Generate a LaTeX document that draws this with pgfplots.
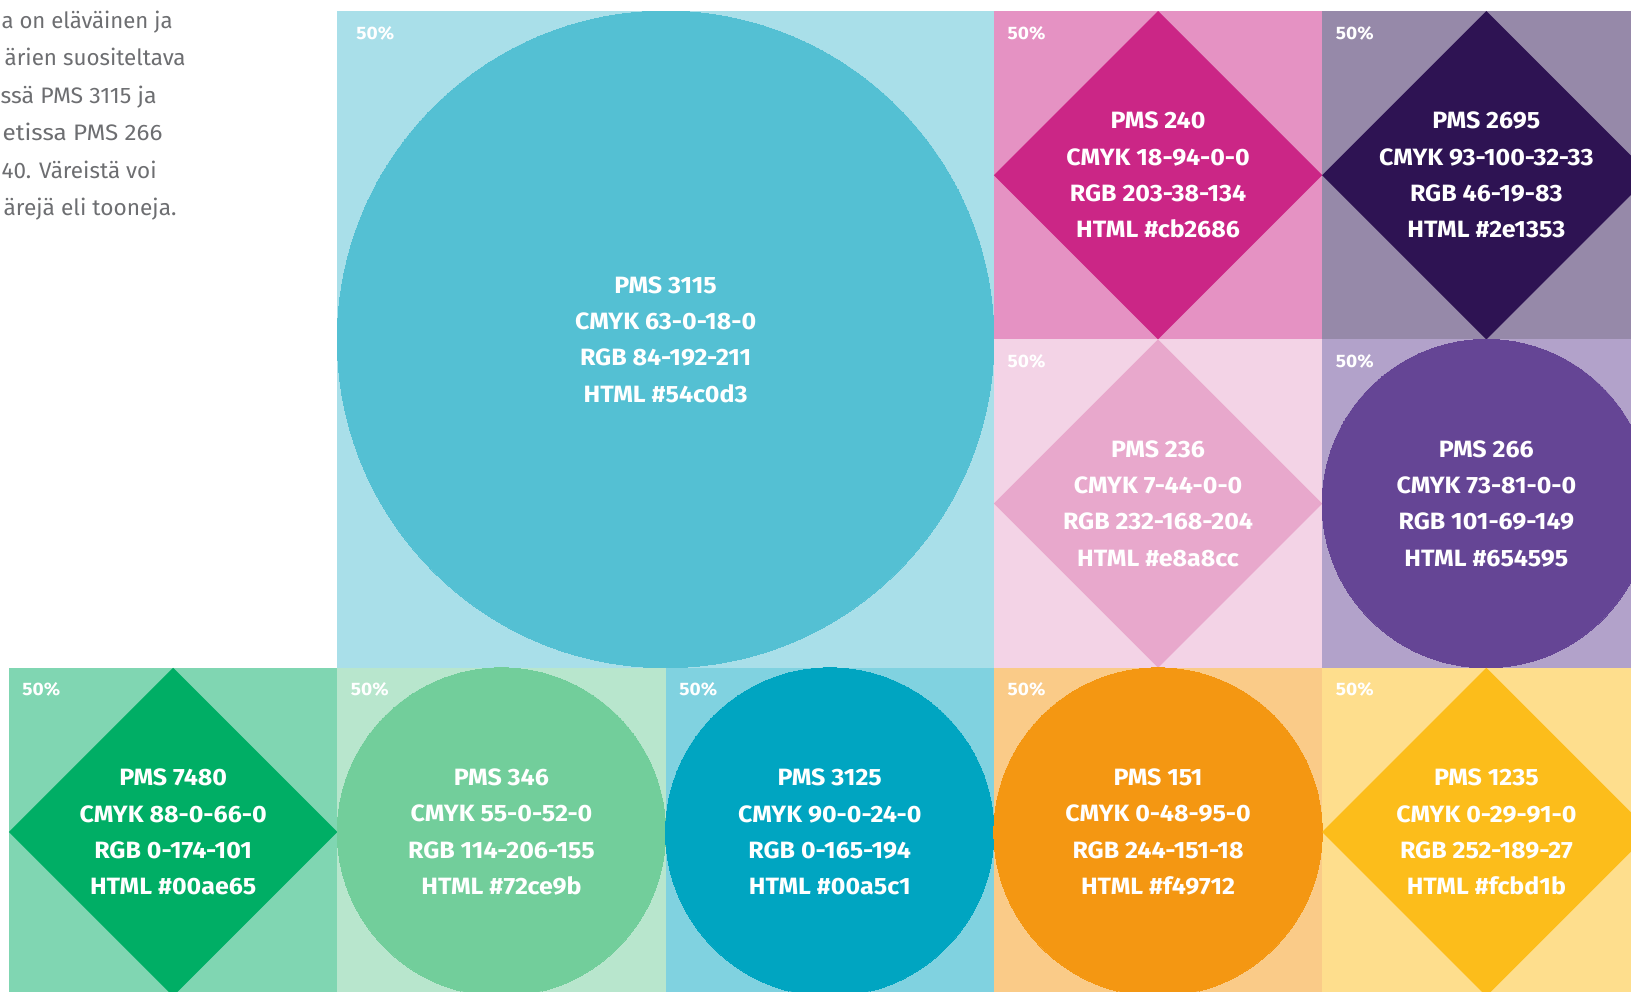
\documentclass[border=0pt]{standalone}
\usepackage{graphicx}
\usepackage{pgfplots}
\pgfplotsset{compat=1.18}
\usepackage{fontspec}
\setmainfont{Fira Sans}
\newfontfamily\exo[FakeStretch=1.06]{Fira Sans}
\definecolor{cA}{HTML}{54C0D3}
\definecolor{cB}{HTML}{CB2686}
\definecolor{cC}{HTML}{2E1353}
\definecolor{cD}{HTML}{E8A8CC}
\definecolor{cE}{HTML}{654595}
\definecolor{cF}{HTML}{00AE65}
\definecolor{cG}{HTML}{72CE9B}
\definecolor{cH}{HTML}{00A5C1}
\definecolor{cI}{HTML}{F49712}
\definecolor{cJ}{HTML}{FCBD1B}
\definecolor{txtgray}{HTML}{6D6E71}
\newcommand{\labfont}{\exo\fontsize{11.8}{18.15}\selectfont\bfseries}
\newcommand{\pctfont}{\exo\fontsize{9.0}{11}\selectfont\bfseries}
\newcommand{\parfont}{\fontsize{11.2}{13}\selectfont}
% square background: x0 x1 y0 y1 color
\newcommand{\sq}[5]{\addplot[fill=#5!50!white, draw=none] coordinates {(#1,#3) (#2,#3) (#2,#4) (#1,#4)} -- cycle;}
% diamond: cx cy half color
\newcommand{\dm}[4]{\addplot[fill=#4, draw=none] coordinates {(#1-#3,#2) (#1,#2-#3) (#1+#3,#2) (#1,#2+#3)} -- cycle;}
% circle: cx cy radius(pt) color
\newcommand{\ci}[4]{\addplot[only marks, mark=*, mark size=#3pt, mark options={fill=#4, draw=#4, line width=0pt}] coordinates {(#1,#2)};}
\newcommand{\lab}[6]{\node[align=center, inner sep=0pt, text=white, font=\labfont] at (axis cs:#1,#2) {PMS #3\\CMYK #4\\RGB #5\\HTML \##6};}
\newcommand{\pct}[2]{\node[anchor=base west, inner sep=0pt, text=white, font=\pctfont] at (axis cs:#1,#2+28) {50\%};}
% paragraph line: right end x, baseline y, width (px -> 0.5pt), text
\newcommand{\pl}[4]{\node[anchor=base east, inner sep=0pt, text=txtgray, font=\parfont] at (axis cs:#1,#2) {\resizebox{#3pt}{\height}{#4}};}
\begin{document}
\begin{tikzpicture}
\begin{axis}[
  width=815.5pt, height=495.5pt, scale only axis,
  xmin=0, xmax=1631, ymin=0, ymax=991, y dir=reverse,
  hide axis, clip=true, clip marker paths=true,
]
% backgrounds
\sq{337.3}{993.9}{11}{667.8}{cA}
\sq{993.9}{1322.2}{11}{339.4}{cB}
\sq{1322.2}{1650.5}{11}{339.4}{cC}
\sq{993.9}{1322.2}{339.4}{667.8}{cD}
\sq{1322.2}{1650.5}{339.4}{667.8}{cE}
\sq{9}{337.3}{667.8}{996.2}{cF}
\sq{337.3}{665.6}{667.8}{996.2}{cG}
\sq{665.6}{993.9}{667.8}{996.2}{cH}
\sq{993.9}{1322.2}{667.8}{996.2}{cI}
\sq{1322.2}{1650.5}{667.8}{996.2}{cJ}
% shapes
\ci{665.6}{339.4}{164.15}{cA}
\dm{1158.05}{175.2}{164.2}{cB}
\dm{1486.35}{175.2}{164.2}{cC}
\dm{1158.05}{503.6}{164.2}{cD}
\ci{1486.35}{503.6}{82.1}{cE}
\dm{173.15}{832}{164.2}{cF}
\ci{501.45}{832}{82.1}{cG}
\ci{829.75}{832}{82.1}{cH}
\ci{1158.05}{832}{82.1}{cI}
\dm{1486.35}{832}{164.2}{cJ}
% labels
\lab{665.6}{339.4}{3115}{63-0-18-0}{84-192-211}{54c0d3}
\lab{1158.05}{175.2}{240}{18-94-0-0}{203-38-134}{cb2686}
\lab{1486.35}{175.2}{2695}{93-100-32-33}{46-19-83}{2e1353}
\lab{1158.05}{503.6}{236}{7-44-0-0}{232-168-204}{e8a8cc}
\lab{1486.35}{503.6}{266}{73-81-0-0}{101-69-149}{654595}
\lab{173.15}{832}{7480}{88-0-66-0}{0-174-101}{00ae65}
\lab{501.45}{832}{346}{55-0-52-0}{114-206-155}{72ce9b}
\lab{829.75}{832}{3125}{90-0-24-0}{0-165-194}{00a5c1}
\lab{1158.05}{832}{151}{0-48-95-0}{244-151-18}{f49712}
\lab{1486.35}{832}{1235}{0-29-91-0}{252-189-27}{fcbd1b}
\pct{356}{11}
\pct{1007.3}{11}
\pct{1335.5}{11}
\pct{1007.3}{339.4}
\pct{1335.5}{339.4}
\pct{22}{667.8}
\pct{350.5}{667.8}
\pct{679}{667.8}
\pct{1007.3}{667.8}
\pct{1335.5}{667.8}
% paragraph
\pl{173}{28}{85.5}{a on eläväinen ja}
\pl{186}{65.5}{90.5}{ärien suositeltava}
\pl{157}{103}{78}{ssä PMS 3115 ja}
\pl{163}{140.5}{80}{etissa PMS 266}
\pl{157}{178}{77.5}{40. Väreistä voi}
\pl{177}{215.5}{86.5}{ärejä eli tooneja.}
\end{axis}
\pgfresetboundingbox
\path[use as bounding box] (current axis.south west) rectangle (current axis.north east);
\end{tikzpicture}
\end{document}
